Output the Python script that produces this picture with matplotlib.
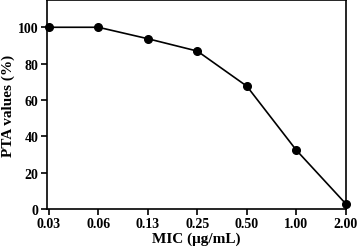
import matplotlib
matplotlib.use("Agg")
import matplotlib.pyplot as plt

mic_labels = ["0.03", "0.06", "0.13", "0.25", "0.50", "1.00", "2.00"]
pta_values = [100.0, 100.0, 93.7, 86.9, 67.6, 32.4, 2.9]

plt.rcParams['font.family'] = ['Liberation Serif', 'DejaVu Serif']
plt.rcParams['font.weight'] = 'bold'

fig = plt.figure(figsize=(3.58, 2.51), dpi=100)
ax = fig.add_axes([0.131, 0.163, 0.835, 0.833])
x = list(range(len(mic_labels)))
ax.plot(x, pta_values, color='black', lw=1.2, marker='o', ms=5.5, clip_on=False, zorder=3)
ax.set_xlim(-0.04, 6)
ax.set_ylim(0, 115)
ax.set_xticks(x)
ax.set_xticklabels(mic_labels)
ax.set_yticks([0, 20, 40, 60, 80, 100])
ax.tick_params(labelsize=10, width=1.2, length=4, pad=2)
for s in ax.spines.values():
    s.set_linewidth(1.2)
ax.set_xlabel("MIC (μg/mL)", fontsize=11, fontweight='bold', labelpad=1)
ax.set_ylabel("PTA values (%)", fontsize=11, fontweight='bold', labelpad=2)
fig.savefig("out.png", dpi=100)
